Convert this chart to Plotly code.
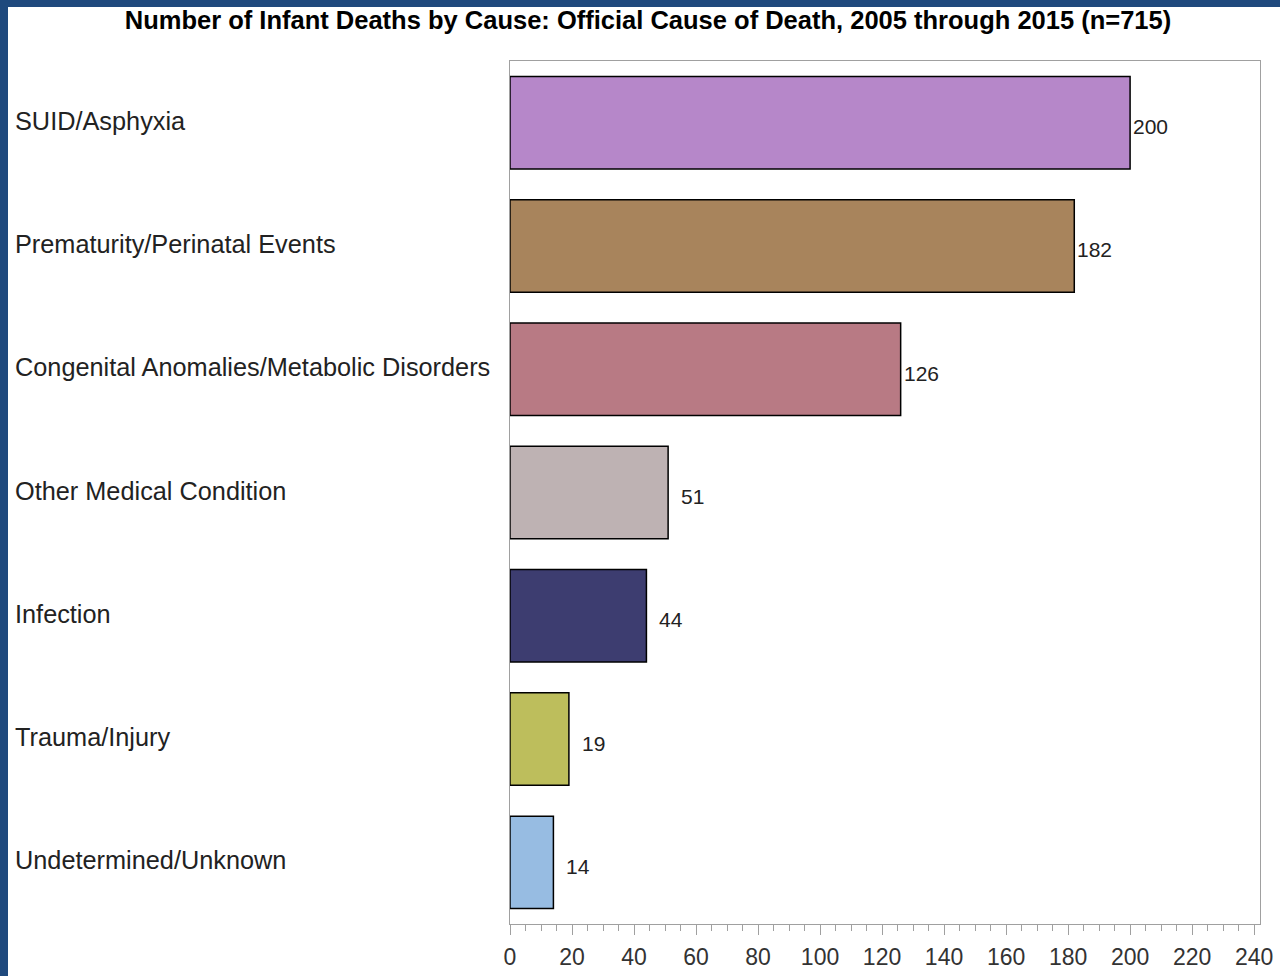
import plotly.graph_objects as go

categories = ["SUID/Asphyxia", "Prematurity/Perinatal Events",
              "Congenital Anomalies/Metabolic Disorders", "Other Medical Condition",
              "Infection", "Trauma/Injury", "Undetermined/Unknown"]
deaths = [200, 182, 126, 51, 44, 19, 14]
colors = ["#B687C9", "#A8845C", "#B87A84", "#BEB2B3", "#3D3D70", "#BDBE5C", "#97BCE2"]
x_ticks = list(range(0, 241, 20))
title = "Number of Infant Deaths by Cause: Official Cause of Death, 2005 through 2015 (n=715)"

W, H = 1280, 976
ML, MR, MT, MB = 510, 20, 61, 52
FONT = "Liberation Sans, Arial, sans-serif"

fig = go.Figure()
fig.add_trace(go.Bar(
    y=categories, x=deaths, orientation="h", width=0.75,
    marker=dict(color=colors, line=dict(color="#000000", width=1.5)),
    hoverinfo="x+y", showlegend=False,
))

annotations = []
for c, v in zip(categories, deaths):
    annotations.append(dict(x=v, y=c, xref="x", yref="y", text=str(v), showarrow=False,
                            xanchor="left", yanchor="middle",
                            xshift=(1 if v >= 100 else 11), yshift=-4,
                            font=dict(family=FONT, size=21, color="#222222")))
plot_w = W - ML - MR
for c in categories:
    annotations.append(dict(x=(13 - ML) / plot_w, y=c, xref="paper", yref="y", text=c,
                            showarrow=False, xanchor="left", yanchor="middle", yshift=2,
                            font=dict(family=FONT, size=25.3, color="#222222")))

fig.update_layout(
    width=W, height=H,
    margin=dict(l=ML, r=MR, t=MT, b=MB, autoexpand=False),
    paper_bgcolor="white", plot_bgcolor="white",
    title=dict(text="<b>" + title + "</b>", x=648 / W, xanchor="center", xref="container",
               y=1 - 20 / H, yanchor="middle", yref="container",
               font=dict(family=FONT, size=25.5, color="#000000")),
    xaxis=dict(range=[0, 241.9], tickvals=x_ticks, ticks="outside", ticklen=10,
               tickcolor="#A0A0A0", tickwidth=1, ticklabelstandoff=2, automargin=False,
               minor=dict(dtick=5, ticks="outside", ticklen=6, tickcolor="#A0A0A0"),
               showgrid=False, zeroline=False, showline=True, linecolor="#A0A0A0",
               linewidth=1, mirror=True,
               tickfont=dict(family=FONT, size=23, color="#333333")),
    yaxis=dict(categoryorder="array", categoryarray=categories, range=[6.5, -0.5],
               showticklabels=False, ticks="", showgrid=False, zeroline=False,
               automargin=False,
               showline=True, linecolor="#A0A0A0", linewidth=1, mirror=True),
    annotations=annotations,
    shapes=[
        dict(type="rect", xref="paper", yref="paper", x0=-ML / plot_w, x1=(8 - ML) / plot_w,
             y0=-MB / (H - MT - MB), y1=1 + MT / (H - MT - MB),
             fillcolor="#1F497D", line=dict(width=0), layer="above"),
        dict(type="rect", xref="paper", yref="paper", x0=-ML / plot_w, x1=1 + MR / plot_w,
             y0=1 + (MT - 7) / (H - MT - MB), y1=1 + MT / (H - MT - MB),
             fillcolor="#1F497D", line=dict(width=0), layer="above"),
    ],
    bargap=0.25,
)

fig.write_html("out.html", config={"displayModeBar": False},
               post_script="document.body.style.margin='0';document.body.style.overflow='hidden';")
